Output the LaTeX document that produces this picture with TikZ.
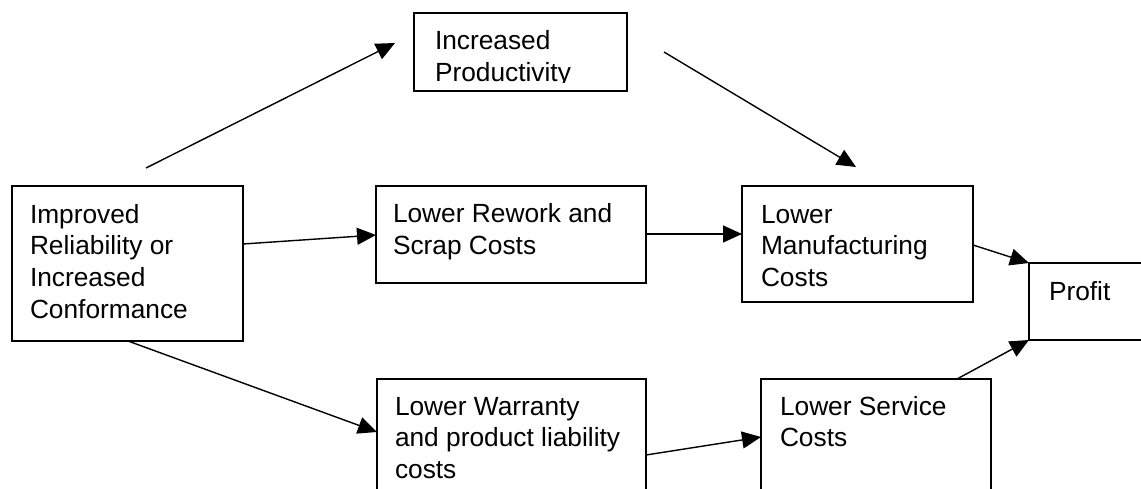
\documentclass[tikz,border=0pt]{standalone}
\usepackage{fontspec}
\setmainfont{Liberation Sans}
\usetikzlibrary{arrows.meta}
\tikzset{
  box/.style={draw, line width=1.3pt, rectangle, inner sep=0pt, outer sep=0pt, anchor=north west},
  txt/.style={anchor=north west, inner sep=0pt, outer sep=0pt, align=left,
              font=\fontsize{26.3pt}{31.7pt}\selectfont},
  arr/.style={line width=1.4pt, -{Triangle[length=19pt,width=17pt]}},
}
\newcommand{\firstline}{\rule{0pt}{20pt}}
\begin{document}
\begin{tikzpicture}[x=1pt,y=-1pt]
\useasboundingbox (0,0) rectangle (1141,489);
\clip (0,0) rectangle (1141,489);
% boxes
\node[box, minimum width=231pt, minimum height=155pt] (A) at (12,186) {};
\node[box, minimum width=213pt, minimum height=78pt] (T) at (414,13) {};
\node[box, minimum width=270pt, minimum height=97pt] (B) at (376,186) {};
\node[box, minimum width=231pt, minimum height=116pt] (C) at (742,186) {};
\node[box, minimum width=140pt, minimum height=77pt] (P) at (1029,263) {};
\node[box, minimum width=269pt, minimum height=140pt] (D) at (377,379) {};
\node[box, minimum width=230pt, minimum height=140pt] (E) at (761,379) {};
% texts
\node[txt] (At) at (30,203) {\firstline Improved\\Reliability or\\Increased\\Conformance};
\begin{scope}
\clip (414,13) rectangle (627,83);
\node[txt] (Tt) at (435,30) {\firstline Increased\\Productivity};
\end{scope}
\node[txt] (Bt) at (393,203) {\firstline Lower Rework and\\Scrap Costs};
\node[txt] (Ct) at (761,203) {\firstline Lower\\Manufacturing\\Costs};
\node[txt] (Pt) at (1049,280) {\firstline Profit};
\node[txt] (Dt) at (395,395) {\firstline Lower Warranty\\and product liability\\costs};
\node[txt] (Et) at (780,395) {\firstline Lower Service\\Costs};
% free ends of connectors
\coordinate (a1) at (146,168);
\coordinate (t1) at (395,43);
\coordinate (t2) at (664,52);
\coordinate (c1) at (856,167);
\coordinate (a2) at (128,341);
\coordinate (e1) at (957,379);
% connectors
\draw[arr] (a1) -- (t1);
\draw[arr] (t2) -- (c1);
\draw[arr] (A.east |- 0,244) -- (B.west |- 0,235);
\draw[arr] (B.east |- 0,234) -- (C.west |- 0,234);
\draw[arr] (C.east |- 0,245) -- (P.north west);
\draw[arr] (a2) -- (D.west |- 0,432);
\draw[arr] (D.east |- 0,455) -- (E.west |- 0,437);
\draw[arr] (e1) -- (P.south west);
\end{tikzpicture}
\end{document}
